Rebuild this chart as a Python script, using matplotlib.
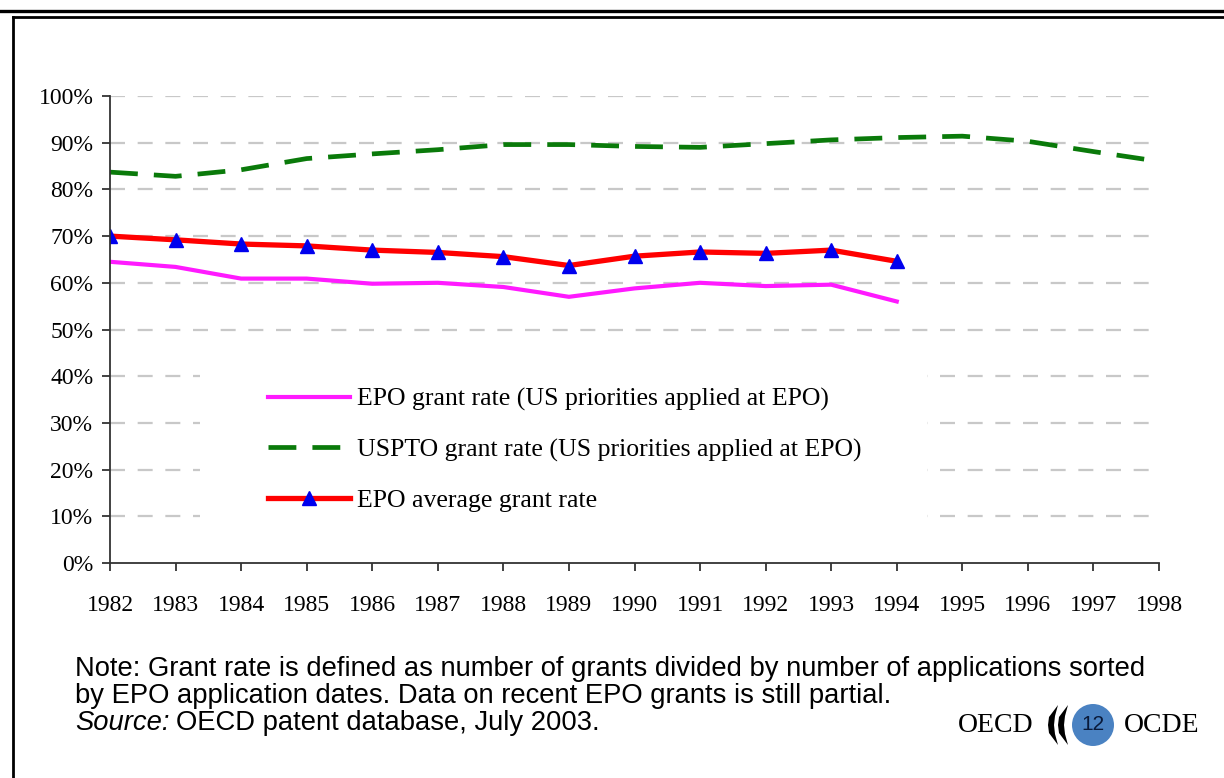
import matplotlib
matplotlib.use("Agg")
import matplotlib.pyplot as plt
from matplotlib.lines import Line2D
from matplotlib.patches import Rectangle, Ellipse, Polygon

years = list(range(1982, 1999))
uspto = [83.7, 82.8, 84.2, 86.6, 87.6, 88.5, 89.6, 89.6, 89.2, 89.0, 89.8, 90.6, 91.1, 91.4, 90.3, 88.1, 86.0]
epo_avg_years = list(range(1982, 1995))
epo_avg = [70.0, 69.2, 68.3, 67.9, 67.0, 66.5, 65.6, 63.7, 65.7, 66.6, 66.3, 67.0, 64.6]
epo_us = [64.5, 63.4, 60.9, 60.9, 59.8, 60.0, 59.1, 57.0, 58.8, 60.0, 59.3, 59.6, 56.0]
ylabels = ["0%", "10%", "20%", "30%", "40%", "50%", "60%", "70%", "80%", "90%", "100%"]
legend_labels = ["EPO grant rate (US priorities applied at EPO)",
                 "USPTO grant rate (US priorities applied at EPO)",
                 "EPO average grant rate"]

W, H = 1224, 778
fig = plt.figure(figsize=(W / 100, H / 100), dpi=100)

def fx(px):
    return px / W

def fy(py):
    return 1 - py / H

ax = fig.add_axes([fx(110), fy(563), fx(1159) - fx(110), fy(96) - fy(563)])
ax.set_xlim(1982, 1998)
ax.set_ylim(0, 100)

for v in range(10, 101, 10):
    ax.axhline(v, color="#c8c8c8", lw=1.6, dashes=(6.75, 5.7), zorder=1)

ax.add_patch(Rectangle((fx(200), fy(532)), fx(927) - fx(200), fy(362) - fy(532),
                       transform=fig.transFigure, facecolor="white", edgecolor="none", zorder=2))

serif = "Liberation Serif"
sans = "Liberation Sans"
green = "#0a7a0a"
gdash = (5.9, 3.4)
ax.plot(years, uspto, color=green, lw=3.4, dashes=gdash, zorder=3,
        solid_capstyle="butt", dash_capstyle="butt")
ax.plot(epo_avg_years, epo_us, color="#ff1aff", lw=3.0, zorder=3)
ax.plot(epo_avg_years, epo_avg, color="#ff0000", lw=3.8, zorder=3)
ax.plot(epo_avg_years, epo_avg, ls="none", marker="^", ms=10.5, color="#0000ee", zorder=4)

for s in ["top", "right"]:
    ax.spines[s].set_visible(False)
for s in ["left", "bottom"]:
    ax.spines[s].set_color("#333333")
    ax.spines[s].set_linewidth(1.3)
    ax.spines[s].set_zorder(5)

ax.set_xticks(years)
ax.set_xticklabels([str(y) for y in years], fontfamily=serif, fontsize=17)
ax.set_yticks(range(0, 101, 10))
ax.set_yticklabels(ylabels, fontfamily=serif, fontsize=17)
ax.tick_params(axis="both", direction="out", length=6, width=1.3, color="#333333")
ax.tick_params(axis="x", pad=17)
ax.tick_params(axis="y", pad=6)

handles = [
    Line2D([], [], color="#ff1aff", lw=3.0),
    Line2D([], [], color=green, lw=3.4, dashes=gdash),
    Line2D([], [], color="#ff0000", lw=3.8, marker="^", ms=10.5, markerfacecolor="#0000ee",
           markeredgecolor="#0000ee"),
]
leg = fig.legend(handles, legend_labels, loc="upper left",
                 bbox_to_anchor=(fx(268), fy(388)), frameon=False,
                 prop={"family": serif, "size": 18.5}, handlelength=3.2,
                 handletextpad=0.27, labelspacing=1.05, borderpad=0, borderaxespad=0)
leg.set_zorder(6)

# note text
nfs = 19.7
fig.text(fx(75), fy(669), "Note: Grant rate is defined as number of grants divided by number of applications sorted",
         fontfamily=sans, fontsize=nfs, va="center", ha="left")
fig.text(fx(75), fy(696), "by EPO application dates. Data on recent EPO grants is still partial.",
         fontfamily=sans, fontsize=nfs, va="center", ha="left")
src = fig.text(fx(75), fy(723), "Source:", fontfamily=sans, fontsize=nfs, style="italic",
               va="center", ha="left")
renderer = fig.canvas.get_renderer()
bb = src.get_window_extent(renderer=renderer)
fig.text(bb.x1 / W + fx(6), fy(723), "OECD patent database, July 2003.", fontfamily=sans, fontsize=nfs,
         va="center", ha="left")

# OECD logo
fig.text(fx(958), fy(726), "OECD", fontfamily=serif, fontsize=20, va="center", ha="left")
fig.text(fx(1124), fy(726), "OCDE", fontfamily=serif, fontsize=20, va="center", ha="left")
for x0 in (1048, 1058):
    pts = [(x0 + 10, 705), (x0 + 1, 717), (x0, 725), (x0 + 1, 733), (x0 + 10, 745),
           (x0 + 7, 734), (x0 + 6, 725), (x0 + 7, 716)]
    fig.add_artist(Polygon([(fx(a), fy(b)) for a, b in pts], closed=True,
                           transform=fig.transFigure, facecolor="black", edgecolor="none"))
fig.add_artist(Ellipse((fx(1093), fy(725)), width=42 / W, height=42 / H, transform=fig.transFigure,
                       facecolor="#4a82c2", edgecolor="none"))
fig.text(fx(1093), fy(725), "12", fontfamily=sans, fontsize=15, color="#0a1a3a",
         va="center", ha="center")

# page frame
fig.add_artist(Line2D([0, 1], [fy(11), fy(11)], transform=fig.transFigure, color="black", lw=2.4))
fig.add_artist(Line2D([fx(12.5), 1], [fy(16.5), fy(16.5)], transform=fig.transFigure, color="black", lw=2.0))
fig.add_artist(Line2D([fx(12.5), fx(12.5)], [fy(16.5), 0], transform=fig.transFigure, color="black", lw=2.0))

fig.savefig("out.png", dpi=100)
